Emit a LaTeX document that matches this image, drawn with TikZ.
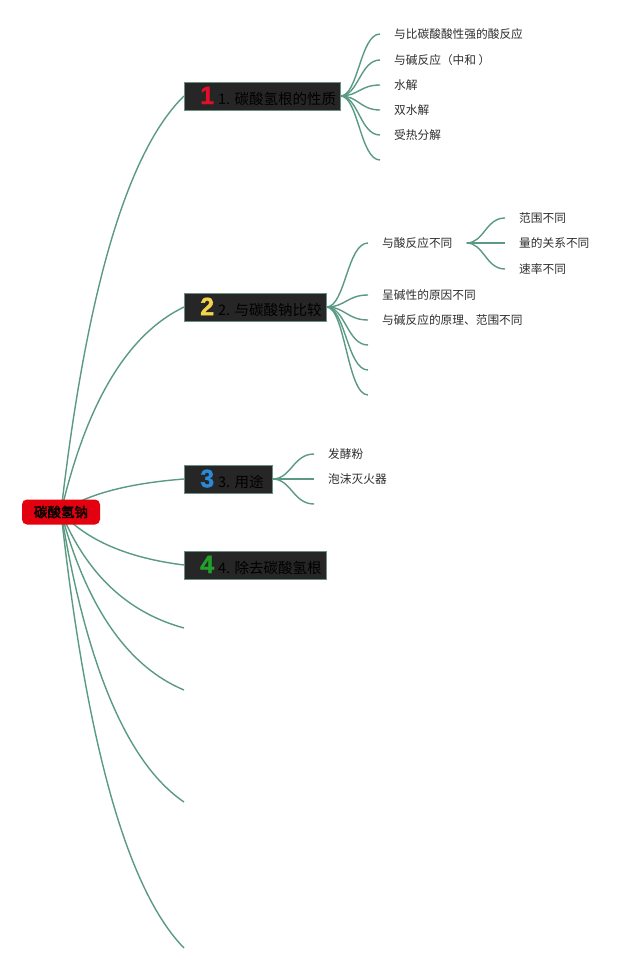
\documentclass[tikz,border=0pt]{standalone}
\usepackage{fontspec}
\setmainfont{Noto Sans CJK SC}
\newfontfamily\cjkbold[FakeBold=2.5]{Noto Sans CJK SC}
\newfontfamily\numfont[FakeBold=1.5]{Liberation Sans}
\usetikzlibrary{calc}
\pgfdeclarelayer{back}
\pgfdeclarelayer{bg}
\pgfsetlayers{back,bg,main}
\definecolor{linkc}{HTML}{5A9A82}
\definecolor{rootc}{HTML}{E3000F}
\definecolor{boxc}{HTML}{262626}
\definecolor{boxline}{HTML}{6B8F80}
\definecolor{boxtext}{HTML}{000000}
\definecolor{leaftext}{HTML}{2E2E2E}
\definecolor{nred}{HTML}{E0102A}
\definecolor{nyellow}{HTML}{F2D54A}
\definecolor{nblue}{HTML}{2A8AD8}
\definecolor{ngreen}{HTML}{22A12A}
\newcommand{\boxcontent}[4]{\makebox[#1][l]{{\numfont\bfseries\fontsize{25}{25}\selectfont\color{#3}#2}\hspace{4pt}{\fontsize{14.5}{16}\selectfont\color{boxtext}#4}}}
\begin{document}
\begin{tikzpicture}[x=1pt,y=-1pt,
  rootlink/.style={draw=linkc, line width=1.4pt, to path={let \p1=(\tikztostart), \p2=(\tikztotarget) in .. controls ({\x1+0.207*(\x2-\x1)},{\y1+0.533*(\y2-\y1)}) and ({\x1+0.54*(\x2-\x1)},{\y1+0.867*(\y2-\y1)}) .. (\tikztotarget)}},
  fanlink/.style={draw=linkc, line width=1.4pt, to path={let \p1=(\tikztostart), \p2=(\tikztotarget) in .. controls ({\x1+0.45*(\x2-\x1)},\y1) and ({\x1+0.5*(\x2-\x1)},\y2) .. (\tikztotarget)}},
  rootbox/.style={fill=rootc, rounded corners=5pt, minimum width=78pt, minimum height=25pt, inner sep=0pt, font=\cjkbold\fontsize{13.5}{14}\selectfont, text=black},
  topicbox/.style={fill=boxc, draw=boxline, line width=0.5pt, minimum height=28pt, inner xsep=16pt, inner ysep=0pt, anchor=west},
  leaf/.style={anchor=west, inner xsep=14pt, inner ysep=2pt, font=\fontsize{11.7}{14}\selectfont, text=leaftext},
]
\useasboundingbox (0,0) rectangle (640,971);
\begin{pgfonlayer}{back}
\fill[white] (0,0) rectangle (640,971);
\end{pgfonlayer}

% root
\node[rootbox] (root) at (61,512) {碳酸氢钠};

% main topics
\node[topicbox, minimum width=156pt] (b1) at (184,96) {\boxcontent{124pt}{1}{nred}{1. 碳酸氢根的性质}};
\node[topicbox, minimum width=142pt] (b2) at (184,307) {\boxcontent{110pt}{2}{nyellow}{2. 与碳酸钠比较}};
\node[topicbox, minimum width=88pt] (b3) at (184,479) {\boxcontent{56pt}{3}{nblue}{3. 用途}};
\node[topicbox, minimum width=142pt] (b4) at (184,565) {\boxcontent{110pt}{4}{ngreen}{4. 除去碳酸氢根}};

\coordinate (e1) at (184,628);
\coordinate (e2) at (184,690);
\coordinate (e3) at (184,802);
\coordinate (e4) at (184,948);

% topic 1 leaves
\node[leaf] (l11) at (380,34) {与比碳酸酸性强的酸反应};
\node[leaf] (l12) at (380,60) {与碱反应（中和 ）};
\node[leaf] (l13) at (380,85) {水解};
\node[leaf] (l14) at (380,110) {双水解};
\node[leaf] (l15) at (380,135) {受热分解};
\coordinate (l16) at (380,160);

% topic 2 leaves
\node[leaf] (l21) at (368,243) {与酸反应不同};
\node[leaf] (l22) at (368,295) {呈碱性的原因不同};
\node[leaf] (l23) at (368,320) {与碱反应的原理、范围不同};
\coordinate (l24) at (368,345);
\coordinate (l25) at (368,370);
\coordinate (l26) at (368,395);

\node[leaf] (s1) at (505,218) {范围不同};
\node[leaf] (s2) at (505,243) {量的关系不同};
\node[leaf] (s3) at (505,269) {速率不同};

% topic 3 leaves
\node[leaf] (l31) at (314,454) {发酵粉};
\node[leaf] (l32) at (314,479) {泡沫灭火器};
\coordinate (l33) at (314,504);

\begin{pgfonlayer}{bg}
\foreach \t in {b1.west,b2.west,b3.west,b4.west,e1,e2,e3,e4}
  \draw[rootlink] (root.center) to (\t);
\foreach \t in {l11.west,l12.west,l13.west,l14.west,l15.west,l16}
  \draw[fanlink] (b1.east) to (\t);
\foreach \t in {l21.west,l22.west,l23.west,l24,l25,l26}
  \draw[fanlink] (b2.east) to (\t);
\foreach \t in {s1.west,s2.west,s3.west}
  \draw[fanlink] (l21.east) to (\t);
\foreach \t in {l31.west,l32.west,l33}
  \draw[fanlink] (b3.east) to (\t);
\end{pgfonlayer}
\end{tikzpicture}
\end{document}
